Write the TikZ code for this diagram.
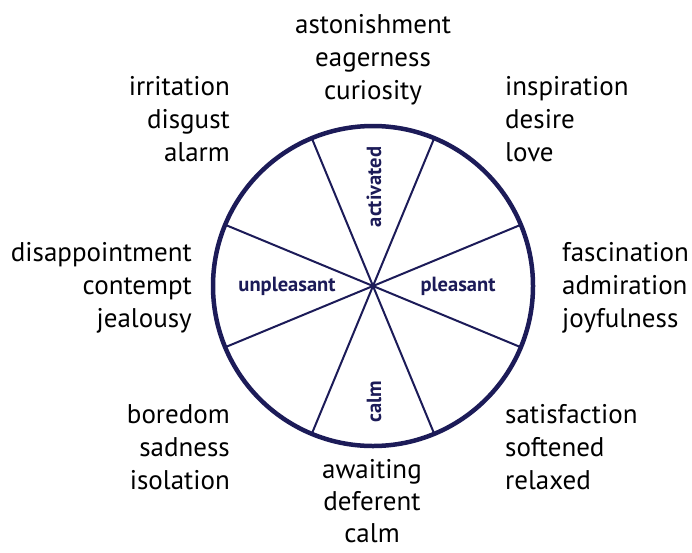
\documentclass[tikz,border=0pt]{standalone}
\usepackage{fontspec}
\setmainfont{PT Sans}
\definecolor{navy}{RGB}{28,27,88}
\begin{document}
\begin{tikzpicture}[x=1pt,y=-1pt,
  outer/.style={font=\fontsize{27}{33}\selectfont, inner sep=0pt, text=black},
  inlab/.style={font=\fontsize{20.5}{22}\selectfont\bfseries, text=navy, inner sep=0pt},
  spoke/.style={draw=navy, line width=2pt},
  rim/.style={draw=navy, line width=4.5pt}]
\useasboundingbox[fill=white] (0,0) rectangle (692,552);
\coordinate (c) at (373,286);
\foreach \a in {22.5,67.5,112.5,157.5}
  \draw[spoke] ([shift={(\a:160)}]c) -- ([shift={(\a+180:160)}]c);
\draw[rim] (c) circle[radius=160];
\fill[navy] (c) circle[radius=3];
\node[inlab, rotate=90] (act) at (374,187) {activated};
\node[inlab] (pl) at (458,286) {pleasant};
\node[inlab] (unpl) at (287,286) {unpleasant};
\node[inlab, rotate=90] (calmlab) at (374,402) {calm};
\node[outer, align=center, anchor=north] (top) at (373,14) {astonishment\\eagerness\\curiosity};
\node[outer, align=right, anchor=north east] (tl) at (230,76) {irritation\\disgust\\alarm};
\node[outer, align=left, anchor=north west] (tr) at (505,76) {inspiration\\desire\\love};
\node[outer, align=right, anchor=north east] (l) at (192,242) {disappointment\\contempt\\jealousy};
\node[outer, align=left, anchor=north west] (r) at (562,242) {fascination\\admiration\\joyfulness};
\node[outer, align=right, anchor=north east] (bl) at (230,404) {boredom\\sadness\\isolation};
\node[outer, align=left, anchor=north west] (br) at (505,404) {satisfaction\\softened\\relaxed};
\node[outer, align=center, anchor=north, font=\fontsize{27}{32}\selectfont] (bot) at (372,459) {awaiting\\deferent\\calm};
\end{tikzpicture}
\end{document}
